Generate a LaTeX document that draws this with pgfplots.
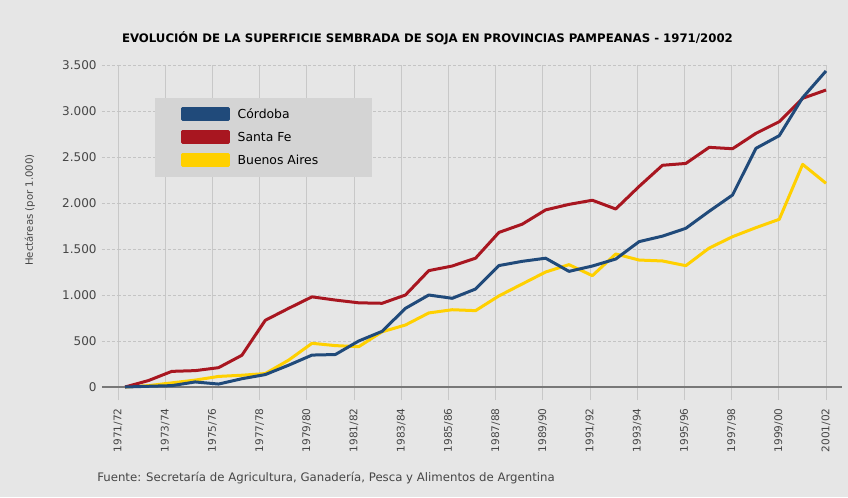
\documentclass[border=0pt]{standalone}
\usepackage{pgfplots}
\pgfplotsset{compat=1.18}
\usepackage{fontspec}
\setmainfont{DejaVu Sans}

\definecolor{bg}{RGB}{230,230,230}
\definecolor{legbg}{RGB}{212,212,212}
\definecolor{gridv}{RGB}{200,200,200}
\definecolor{gridh}{RGB}{196,196,196}
\definecolor{basecol}{RGB}{120,120,120}
\definecolor{txt}{RGB}{70,70,70}
\definecolor{cordoba}{RGB}{32,74,122}
\definecolor{santafe}{RGB}{168,22,32}
\definecolor{baires}{RGB}{255,208,0}

\begin{document}
\begin{tikzpicture}
\path[use as bounding box] (0,0) rectangle (636pt,372.75pt);
\fill[bg] (0,0) rectangle (636pt,372.75pt);
\begin{axis}[
    at={(88.5pt,82.5pt)}, anchor=south west,
    scale only axis, width=531pt, height=241.5pt,
    xmin=0, xmax=30, ymin=0, ymax=3500,
    clip=false,
    axis line style={draw=none},
    xtick={0,2,...,30},
    xticklabels={1971/72,1973/74,1975/76,1977/78,1979/80,1981/82,1983/84,1985/86,
                 1987/88,1989/90,1991/92,1993/94,1995/96,1997/98,1999/00,2001/02},
    ytick={0,500,...,3500},
    xmajorgrids, ymajorgrids,
    x grid style={gridv, line width=0.75pt},
    y grid style={gridh, line width=0.6pt, dash pattern=on 2.25pt off 1.5pt},
    tick align=outside, tick pos=left,
    xtick style={gridv, line width=0.75pt, /pgfplots/major tick length=9.75pt},
    ytick style={gridh, line width=0.6pt, dash pattern=on 2.25pt off 1.5pt, /pgfplots/major tick length=12pt},
    xticklabel style={rotate=90, anchor=east, xshift=-8.25pt, font=\fontsize{7.9}{9}\selectfont, text=txt},
    yticklabel style={xshift=-8.25pt, font=\fontsize{9}{10}\selectfont, text=txt,
                      /pgf/number format/1000 sep={.}, /pgf/number format/assume math mode=true},
    reverse legend,
    legend cell align=left,
    legend image code/.code={\fill[#1] (0pt,-4.1pt) rectangle (34.5pt,4.1pt);},
    legend style={at={(rel axis cs:0.0523,0.8975)}, anchor=north west,
                  fill=legbg, draw=none, inner xsep=19pt, inner ysep=3.5pt,
                  font=\fontsize{9.3}{11}\selectfont, text={RGB:red,60;green,60;blue,60},
                  /tikz/column sep=4pt,
                  nodes={minimum height=17.25pt}},
]
\draw[basecol, line width=1.5pt] (axis cs:-0.68,0) -- (axis cs:30.68,0);

\addplot[color=baires, line width=2.25pt, line join=round] coordinates {
 (0.30,0) (1.29,15) (2.28,45) (3.27,75) (4.26,115) (5.25,128) (6.24,146)
 (7.23,292) (8.22,475) (9.21,450) (10.20,438) (11.19,600) (12.18,674)
 (13.17,805) (14.16,840) (15.15,830) (16.14,990) (17.13,1120) (18.12,1250)
 (19.11,1330) (20.10,1210) (21.09,1446) (22.08,1380) (23.07,1370)
 (24.06,1319) (25.05,1510) (26.04,1634) (27.03,1732) (28.02,1823)
 (29.01,2420) (30.00,2214)};
\addlegendentry{\makebox[80pt][l]{Buenos Aires}}

\addplot[color=santafe, line width=2.25pt, line join=round] coordinates {
 (0.30,0) (1.29,70) (2.28,170) (3.27,178) (4.26,210) (5.25,345) (6.24,725)
 (7.23,855) (8.22,980) (9.21,945) (10.20,915) (11.19,910) (12.18,1000)
 (13.17,1265) (14.16,1315) (15.15,1400) (16.14,1680) (17.13,1770)
 (18.12,1925) (19.11,1985) (20.10,2030) (21.09,1935) (22.08,2180)
 (23.07,2410) (24.06,2430) (25.05,2605) (26.04,2590) (27.03,2757)
 (28.02,2884) (29.01,3138) (30.00,3228)};
\addlegendentry{\makebox[80pt][l]{Santa Fe}}

\addplot[color=cordoba, line width=2.25pt, line join=round] coordinates {
 (0.30,0) (1.29,8) (2.28,15) (3.27,55) (4.26,32) (5.25,90) (6.24,135)
 (7.23,237) (8.22,347) (9.21,353) (10.20,500) (11.19,605) (12.18,855)
 (13.17,1000) (14.16,964) (15.15,1065) (16.14,1320) (17.13,1366)
 (18.12,1400) (19.11,1257) (20.10,1315) (21.09,1391) (22.08,1580)
 (23.07,1640) (24.06,1725) (25.05,1910) (26.04,2087) (27.03,2594)
 (28.02,2732) (29.01,3145) (30.00,3435)};
\addlegendentry{\makebox[80pt][l]{Córdoba}}
\end{axis}

\node[font=\bfseries\fontsize{8.8}{10}\selectfont, text={RGB:red,40;green,40;blue,40}]
  at (320.6pt,344.25pt) {EVOLUCIÓN DE LA SUPERFICIE SEMBRADA DE SOJA EN PROVINCIAS PAMPEANAS - 1971/2002};
\node[rotate=90, font=\fontsize{7.6}{9}\selectfont, text=txt] at (22.5pt,215.25pt) {Hectáreas (por 1.000)};
\node[anchor=west, inner sep=0pt, font=\fontsize{8.8}{10}\selectfont, text=txt]
  at (72.75pt,14.25pt) {Fuente: Secretaría de Agricultura, Ganadería, Pesca y Alimentos de Argentina};
\end{tikzpicture}
\end{document}
